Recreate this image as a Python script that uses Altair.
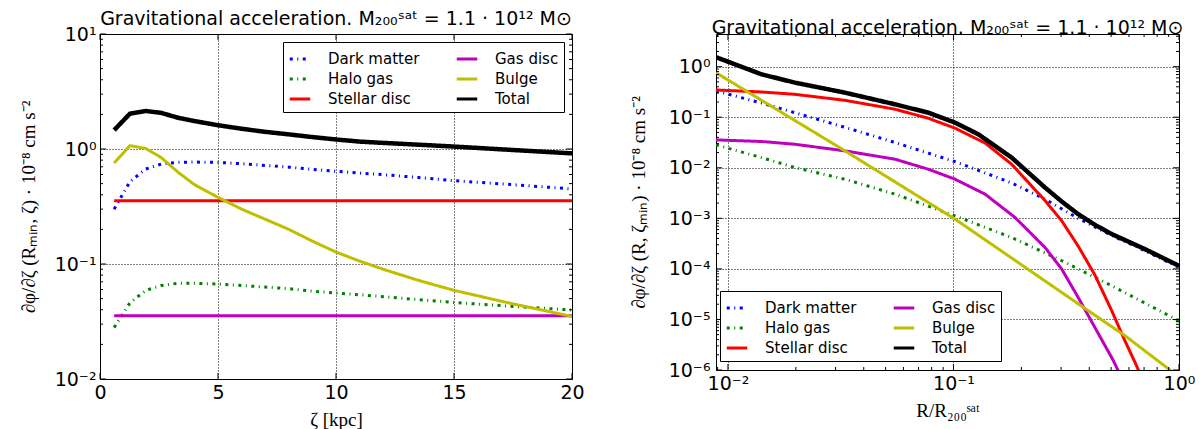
import altair as alt
import pandas as pd

# ---------------- Left panel: acceleration vs zeta (kpc) ----------------
zeta = [0.6, 1.27, 1.94, 2.6, 3.3, 4.0, 5.0, 6.0, 7.0, 8.0, 9.0, 10.0,
        11.0, 12.0, 13.5, 15.0, 17.5, 20.0]
left_dm = [0.30, 0.52, 0.67, 0.74, 0.765, 0.77, 0.765, 0.745, 0.72, 0.695,
           0.665, 0.64, 0.618, 0.598, 0.565, 0.53, 0.49, 0.449]
left_halo = [0.028, 0.046, 0.059, 0.065, 0.068, 0.068, 0.067, 0.065, 0.063,
             0.061, 0.058, 0.056, 0.054, 0.052, 0.049, 0.0463, 0.0428, 0.0398]
left_bulge = [0.755, 1.07, 1.01, 0.84, 0.63, 0.49, 0.38, 0.30, 0.245, 0.20,
              0.158, 0.127, 0.106, 0.090, 0.072, 0.059, 0.045, 0.035]
left_total = [1.46, 2.03, 2.14, 2.06, 1.87, 1.75, 1.61, 1.50, 1.41, 1.34,
              1.27, 1.21, 1.16, 1.13, 1.09, 1.05, 0.98, 0.916]
zeta_disc = [0.6, 20.0]
left_stellar = [0.355, 0.355]
left_gas = [0.0355, 0.0355]

# ---------------- Right panel: acceleration vs R/R200 ----------------
r_main = [0.00885, 0.01409, 0.01982, 0.03304, 0.05508, 0.07727, 0.1016,
          0.138, 0.1811, 0.2547, 0.3573, 0.5035, 0.7063, 1.0]
right_dm = [0.331, 0.191, 0.123, 0.0631, 0.0316, 0.0195, 0.0132, 0.00794,
            0.00501, 0.0024, 0.0010, 0.000457, 0.000229, 0.000107]
r_total = [0.00885, 0.01409, 0.01982, 0.03304, 0.05508, 0.07727, 0.1016,
           0.1288, 0.1528, 0.1811, 0.2148, 0.2547, 0.302, 0.3573, 0.4236,
           0.5035, 0.7063, 1.0]
right_total = [1.54, 0.706, 0.483, 0.306, 0.180, 0.1233, 0.0782, 0.0461,
               0.0271, 0.0159, 0.00804, 0.00406, 0.00215, 0.00121, 0.000745,
               0.000488, 0.000246, 0.000115]
r_stellar = [0.00885, 0.01409, 0.01982, 0.03304, 0.05508, 0.07727, 0.1016,
             0.138, 0.1811, 0.2547, 0.302, 0.3573, 0.4236, 0.5035, 0.5754,
             0.6339, 0.6918]
right_stellar = [0.346, 0.316, 0.284, 0.216, 0.144, 0.0955, 0.0607, 0.0309,
                 0.01175, 0.00224, 0.000891, 0.000282, 7.59e-5, 1.48e-5,
                 3.80e-6, 1.51e-6, 6.3e-7]
r_gas = [0.00885, 0.01409, 0.01982, 0.03304, 0.05508, 0.07727, 0.1016,
         0.138, 0.1875, 0.2547, 0.302, 0.3573, 0.4236, 0.5117, 0.5495]
right_gas = [0.0356, 0.0331, 0.0292, 0.0216, 0.01476, 0.00938, 0.00594,
             0.00301, 0.00104, 0.000265, 9.9e-5, 2.72e-5, 6.95e-6, 1.53e-6,
             7.9e-7]
r_halo = [0.00885, 0.01409, 0.01982, 0.03304, 0.05508, 0.1016, 0.1811,
          0.302, 0.5035, 1.0]
right_halo = [0.0284, 0.0159, 0.0101, 0.00594, 0.00301, 0.00112, 0.000418,
              0.000145, 4.63e-5, 9.4e-6]
r_bulge = [0.00885, 0.03304, 0.1016, 0.3963, 0.5754, 0.912, 1.0]
right_bulge = [0.76, 0.0216, 0.000964, 1.486e-5, 4.79e-6, 1.0e-6, 7.4e-7]

# ---------------- tick positions / labels ----------------
left_x_ticks = [0, 5, 10, 15, 20]
left_y_major = [0.01, 0.1, 1, 10]
left_y_labels = ["10⁻²", "10⁻¹", "10⁰", "10¹"]
left_y_minor = [m * d for d in [0.01, 0.1, 1] for m in range(2, 10)]
right_x_major = [0.01, 0.1, 1]
right_x_labels = ["10⁻²", "10⁻¹", "10⁰"]
right_x_minor = [0.009] + [m * d for d in [0.01, 0.1] for m in range(2, 10)]
right_y_major = [1e-6, 1e-5, 1e-4, 1e-3, 1e-2, 1e-1, 1]
right_y_labels = ["10⁻⁶", "10⁻⁵", "10⁻⁴", "10⁻³", "10⁻²", "10⁻¹", "10⁰"]
right_y_minor = [m * d for d in [1e-6, 1e-5, 1e-4, 1e-3, 1e-2, 1e-1] for m in range(2, 10)] + [2, 3, 4]

SERIES = ["Dark matter", "Halo gas", "Stellar disc", "Gas disc", "Bulge", "Total"]
COLORS = {"Dark matter": "#0000ff", "Halo gas": "#008000", "Stellar disc": "#ff0000",
          "Gas disc": "#bf00bf", "Bulge": "#bfbf00", "Total": "#000000"}
DASHES = {"Dark matter": [3, 4.5, 1, 4.5], "Halo gas": [3, 4.5, 1, 4.5],
          "Stellar disc": [1, 0], "Gas disc": [1, 0], "Bulge": [1, 0], "Total": [1, 0]}
WIDTHS = {"Dark matter": 3, "Halo gas": 3, "Stellar disc": 3, "Gas disc": 3,
          "Bulge": 3, "Total": 4.5}


def long_df(series):
    rows = []
    for name, xs, ys in series:
        for i, (a, b) in enumerate(zip(xs, ys)):
            rows.append({"x": a, "y": b, "series": name, "k": i, "w": WIDTHS[name]})
    return pd.DataFrame(rows)


df_left = long_df([
    ("Dark matter", zeta, left_dm),
    ("Halo gas", zeta, left_halo),
    ("Stellar disc", zeta_disc, left_stellar),
    ("Gas disc", zeta_disc, left_gas),
    ("Bulge", zeta, left_bulge),
    ("Total", zeta, left_total),
])
df_right = long_df([
    ("Dark matter", r_main, right_dm),
    ("Halo gas", r_halo, right_halo),
    ("Stellar disc", r_stellar, right_stellar),
    ("Gas disc", r_gas, right_gas),
    ("Bulge", r_bulge, right_bulge),
    ("Total", r_total, right_total),
])


def label_expr(vals, labels):
    parts = []
    for v, l in zip(vals, labels):
        tol = abs(v) * 1e-3 + 1e-12
        parts.append(f"abs(datum.value - {v!r}) < {tol!r} ? '{l}'")
    return " : ".join(parts) + " : ''"


GRID = dict(grid=True, gridDash=[1, 2], gridColor="black", gridOpacity=1,
            gridWidth=1, ticks=False, domain=False, labelFlush=False,
            labelOverlap=False)

TITLE_TEXT = "Gravitational acceleration. M₂₀₀ˢᵃᵗ = 1.1 · 10¹² M⊙"


def panel(df, W, H, xscale, yscale, xaxis, yaxis, xmaj, xmin, ymaj, ymin, lx, ly):
    legend = alt.Legend(title=None, orient="none", legendX=lx, legendY=ly,
                        columns=2, symbolType="stroke", symbolSize=420,
                        labelFont="DejaVu Sans", labelFontSize=15,
                        labelColor="black", rowPadding=0, columnPadding=30,
                        labelOffset=16, padding=5, strokeColor="black",
                        fillColor="white", cornerRadius=0,
                        symbolStrokeWidth=3)
    lines = alt.Chart(df).mark_line(clip=True, strokeCap="butt").encode(
        x=alt.X("x:Q", scale=xscale, axis=xaxis),
        y=alt.Y("y:Q", scale=yscale, axis=yaxis),
        color=alt.Color("series:N", scale=alt.Scale(domain=SERIES,
                        range=[COLORS[s] for s in SERIES]), legend=legend),
        strokeDash=alt.StrokeDash("series:N", scale=alt.Scale(domain=SERIES,
                        range=[DASHES[s] for s in SERIES]), legend=legend),
        strokeWidth=alt.StrokeWidth("w:Q", scale=None),
        order="k:Q",
    )
    layers = []
    for vals, L in [(ymaj, 6), (ymin, 3)]:
        b = alt.Chart(pd.DataFrame({"y": vals})).mark_rule(color="black", strokeWidth=1)
        layers.append(b.encode(y="y:Q", x=alt.value(0), x2=alt.value(L)))
        layers.append(b.encode(y="y:Q", x=alt.value(W - L), x2=alt.value(W)))
    for vals, L in [(xmaj, 6), (xmin, 3)]:
        if not vals:
            continue
        b = alt.Chart(pd.DataFrame({"x": vals})).mark_rule(color="black", strokeWidth=1)
        layers.append(b.encode(x="x:Q", y=alt.value(H), y2=alt.value(H - L)))
        layers.append(b.encode(x="x:Q", y=alt.value(0), y2=alt.value(L)))
    return alt.layer(lines, *layers).properties(
        width=W, height=H,
        title=alt.TitleParams(TITLE_TEXT, font="DejaVu Sans", fontSize=19,
                              fontWeight="normal", color="black", offset=-4,
                              anchor="middle", frame="group"),
    )


left = panel(
    df_left, 472, 345,
    alt.Scale(domain=[0, 20], nice=False, zero=False),
    alt.Scale(type="log", domain=[0.01, 10], nice=False),
    alt.Axis(values=left_x_ticks, format="d", title="ζ [kpc]", labelPadding=4,
             titlePadding=8, **GRID),
    alt.Axis(values=left_y_major, labelExpr=label_expr(left_y_major, left_y_labels),
             title="∂φ/∂ζ (Rₘᵢₙ, ζ) · 10⁻⁸ cm s⁻²", labelPadding=4,
             titlePadding=16, **GRID),
    left_x_ticks, [], left_y_major, left_y_minor, 183, 8,
)

right = panel(
    df_right, 463, 336,
    alt.Scale(type="log", domain=[0.00885, 1], nice=False),
    alt.Scale(type="log", domain=[1e-6, 4.43], nice=False),
    alt.Axis(values=right_x_major, labelExpr=label_expr(right_x_major, right_x_labels),
             title="R/R₂₀₀ˢᵃᵗ", labelPadding=4, titlePadding=8, **GRID),
    alt.Axis(values=right_y_major, labelExpr=label_expr(right_y_major, right_y_labels),
             title="∂φ/∂ζ (R, ζₘᵢₙ) · 10⁻⁸ cm s⁻²", labelPadding=6,
             titlePadding=20, **GRID),
    right_x_major, right_x_minor, right_y_major, right_y_minor, 4, 257,
)

chart = alt.hconcat(left, right, spacing=43).resolve_scale(
    x="independent", y="independent", color="independent",
    strokeDash="independent",
).resolve_legend(color="independent", strokeDash="independent").properties(
    padding={"left": 18, "top": 9, "right": 0, "bottom": 0},
    background="white",
).configure_axis(
    labelFont="DejaVu Sans", labelFontSize=19, labelColor="black",
    titleFont="Liberation Serif", titleFontSize=19, titleFontWeight="normal",
    titleColor="black",
).configure_view(stroke="black", strokeWidth=1)

chart.save("out.html", embed_options={"renderer": "svg", "actions": False})
